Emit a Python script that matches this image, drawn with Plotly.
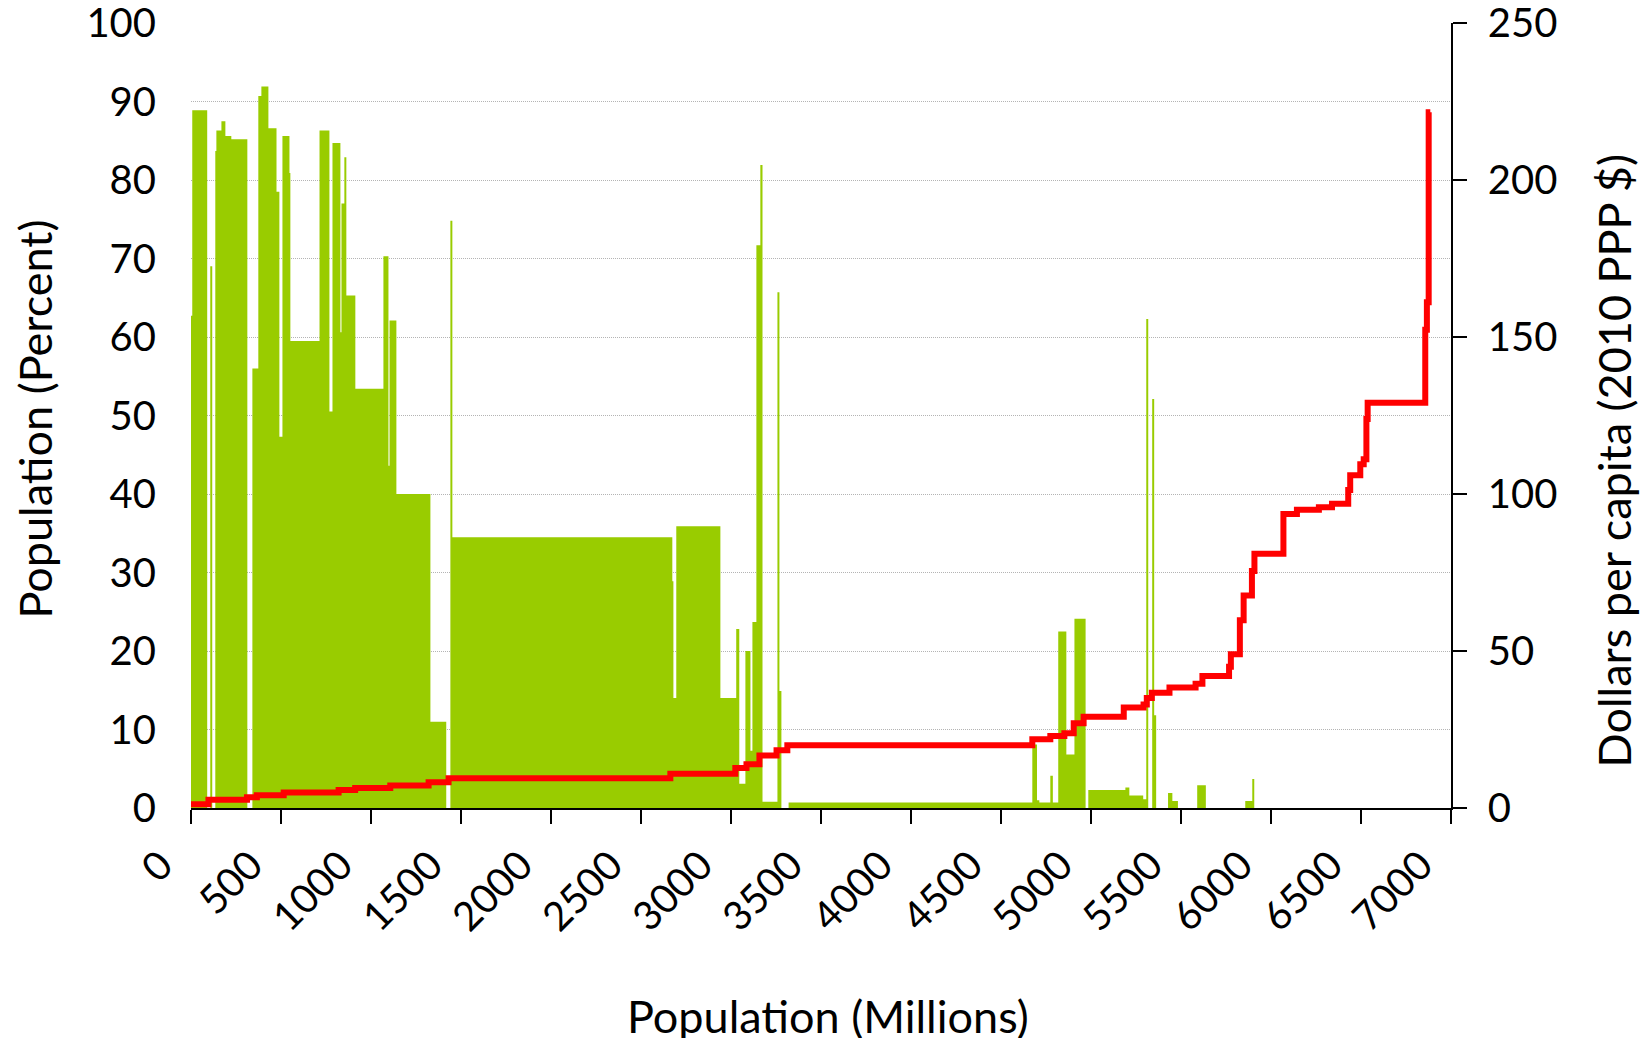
import plotly.graph_objects as go

# ---- Data -------------------------------------------------------------
# Green blocks: left edge of each population block (cumulative millions) and share (%)
seg_left = [0, 7, 90, 107, 118, 135, 141, 169, 191, 224,
            313, 341, 374, 391, 430, 475, 491, 508, 547, 552,
            714, 769, 786, 830, 836, 852, 863, 913, 1069, 1097,
            1103, 1141, 1330, 1418, 1441, 1452, 2674, 2680, 2696, 2941,
            3029, 3046, 3080, 3108, 3119, 3141, 3163, 3175, 3258, 3269,
            3280, 3320, 4674, 4700, 4713, 4774, 4788, 4818, 4863, 4908,
            4970, 4985, 5191, 5213, 5290, 5307, 5318, 5340, 5351, 5362,
            5428, 5452, 5483, 5590, 5638, 5857, 5896, 5907]
seg_pct = [62.7, 88.9, 0, 69.0, 0, 83.7, 86.3, 87.5, 85.6, 85.2,
           0, 56.0, 90.7, 91.9, 86.6, 78.5, 47.3, 85.6, 80.9, 59.5,
           86.3, 50.5, 84.7, 60.6, 77.0, 82.9, 65.3, 53.4, 70.3, 43.6,
           62.1, 40.0, 11.0, 0, 74.8, 34.5, 28.9, 14.0, 35.9, 14.0,
           22.8, 3.1, 20.0, 7.3, 23.7, 71.7, 81.9, 0.8, 65.7, 14.9,
           0, 0.7, 8.1, 1.0, 0.7, 4.1, 0.7, 22.5, 6.8, 24.1,
           0, 2.3, 2.6, 1.6, 1.1, 62.3, 0, 52.1, 11.8, 0,
           1.9, 0.9, 0, 2.9, 0, 0.9, 3.7, 0]
pop_total = 6885

# Red step line: cumulative population (millions) where each level starts, dollars per capita
cost_x = [0, 97, 311, 366, 515, 820, 912, 1107, 1320, 1431,
          2663, 3024, 3086, 3158, 3253, 3313, 4674, 4774, 4852, 4904,
          4959, 5182, 5292, 5310, 5338, 5436, 5581, 5619, 5767, 5777,
          5827, 5848, 5894, 5908, 6069, 6144, 6266, 6339, 6429, 6440,
          6496, 6515, 6530, 6537, 6857, 6866, 6876, 6885]
cost_val = [1.2, 2.6, 3.4, 4.1, 4.9, 5.7, 6.4, 7.2, 8.2, 9.5,
            10.9, 12.7, 13.9, 16.7, 18.4, 20.0, 21.9, 22.9, 23.8, 27.0,
            29.1, 32.0, 33.0, 35.0, 36.7, 38.4, 39.6, 42.0, 45.0, 49.0,
            59.8, 67.7, 75.5, 81.0, 93.6, 95.0, 95.8, 96.9, 101.3, 106.0,
            109.5, 111.1, 123.9, 129.1, 152.3, 161.1, 221.6, 221.6]

x_ticks = list(range(0, 7001, 500))
y_ticks = list(range(0, 101, 10))
y2_ticks = list(range(0, 251, 50))

FONT = "Lato"
FS = 40      # tick labels
FT = 45      # axis titles

# ---- Figure -----------------------------------------------------------
fig = go.Figure()

fig.add_trace(go.Scatter(
    x=seg_left + [pop_total], y=seg_pct + [seg_pct[-1]],
    mode="lines", line=dict(shape="hv", width=0, color="#99CC00"),
    fill="tozeroy", fillcolor="#99CC00", hoverinfo="skip", showlegend=False))

fig.add_trace(go.Scatter(
    x=cost_x, y=cost_val, yaxis="y2",
    mode="lines", line=dict(shape="hv", width=6, color="#FF0000"),
    showlegend=False))

# page has an 8px body margin: the figure sits at (8, 8)
OFF = 8
FW, FH = 1651 - 2 * OFF, 1046 - 2 * OFF
PL, PR, PT, PB = 190.7, 1450.7, 22.5, 808   # plot area in page pixels
L, R, T, B = PL - OFF, FW - (PR - OFF), PT - OFF, FH - (PB - OFF)

fig.update_layout(
    width=FW, height=FH,
    margin=dict(l=L, r=R, t=T, b=B, pad=0, autoexpand=False),
    paper_bgcolor="white", plot_bgcolor="white",
    font=dict(family=FONT, size=FS, color="black"),
    showlegend=False,
    xaxis=dict(
        range=[0, 7000], tickvals=x_ticks, ticktext=[str(v) for v in x_ticks],
        showgrid=False, zeroline=False, automargin=False,
        showline=True, linecolor="black", linewidth=1.5,
        ticks="outside", ticklen=14, tickwidth=1.5, tickcolor="black",
        tickangle=-45, tickfont=dict(family=FONT, size=FS),
        ticklabelstandoff=2, ticklabelshift=-30, ticklabeloverflow="allow",
    ),
    yaxis=dict(
        range=[0, 100], tickvals=y_ticks,
        showgrid=True, gridcolor="#B4B4B4", gridwidth=1, griddash="1px,1px",
        zeroline=False, showline=False, ticks="", automargin=False,
        tickfont=dict(family=FONT, size=FS),
        ticklabelstandoff=34, ticklabeloverflow="allow",
    ),
    yaxis2=dict(
        range=[0, 250], tickvals=y2_ticks, overlaying="y", side="right",
        showgrid=False, zeroline=False, automargin=False,
        showline=True, linecolor="black", linewidth=1.5,
        ticks="outside", ticklen=14, tickwidth=1.5, tickcolor="black",
        tickfont=dict(family=FONT, size=FS),
        ticklabelstandoff=13, ticklabeloverflow="allow",
    ),
)

W = PR - PL
H = PB - PT


def px(X):
    return (X - PL) / W


def py(Y):
    return (PB - Y) / H


fig.add_annotation(text="Population (Percent)", xref="paper", yref="paper",
                   x=px(35), y=py(419), textangle=-90, showarrow=False,
                   xanchor="center", yanchor="middle", font=dict(family=FONT, size=FT))
fig.add_annotation(text="Dollars per capita (2010 PPP $)", xref="paper", yref="paper",
                   x=px(1614), y=py(460), textangle=-90, showarrow=False,
                   xanchor="center", yanchor="middle", font=dict(family=FONT, size=FT))
fig.add_annotation(text="Population (Millions)", xref="paper", yref="paper",
                   x=px(828), y=py(1016), showarrow=False,
                   xanchor="center", yanchor="middle", font=dict(family=FONT, size=FT))

fig.write_html("out.html")
